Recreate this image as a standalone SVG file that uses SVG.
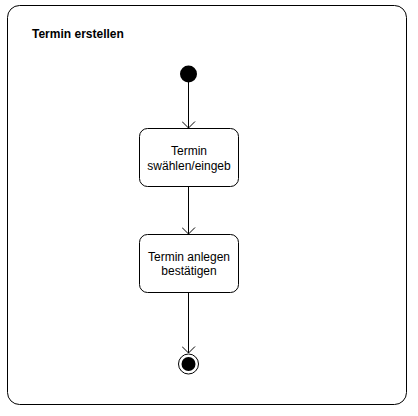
<svg xmlns="http://www.w3.org/2000/svg" width="418" height="416" viewBox="0 0 418 416">
<style>
.t{font-family:"Liberation Sans",Arial,sans-serif;font-size:12px;fill:#000}
.b{font-weight:bold}
.box{fill:#fff;stroke:#000;stroke-width:1}
.c{stroke:#000;stroke-width:1;fill:none}
</style>
<defs>
<marker id="ah" viewBox="0 0 8 14" refX="7" refY="7" markerWidth="8" markerHeight="14" markerUnits="userSpaceOnUse" orient="auto">
<path d="M0.5,0.5 L7,7 L0.5,13.5" fill="none" stroke="#000" stroke-width="1"/>
</marker>
</defs>
<rect width="418" height="416" fill="#fff"/>
<g id="frame">
<rect x="7.5" y="5.5" width="399" height="399" rx="12" ry="12" fill="#fff" stroke="#000" stroke-width="1"/>
<text class="t b" x="32" y="38">Termin erstellen</text>
</g>
<g id="connectors">
<line class="c" x1="188.5" y1="82" x2="188.5" y2="128" marker-end="url(#ah)"/>
<line class="c" x1="188.5" y1="187" x2="188.5" y2="234" marker-end="url(#ah)"/>
<line class="c" x1="188.5" y1="293" x2="188.5" y2="353" marker-end="url(#ah)"/>
</g>
<g id="start">
<circle cx="188.5" cy="74" r="8.5" fill="#000"/>
</g>
<g id="node1">
<rect class="box" x="139.5" y="128.5" width="99" height="58" rx="8" ry="8"/>
<text class="t" x="189" y="155" text-anchor="middle">Termin</text>
<text class="t" x="189" y="170" text-anchor="middle">swählen/eingeb</text>
</g>
<g id="node2">
<rect class="box" x="139.5" y="234.5" width="99" height="58" rx="8" ry="8"/>
<text class="t" x="189" y="261" text-anchor="middle">Termin anlegen</text>
<text class="t" x="189" y="275" text-anchor="middle">bestätigen</text>
</g>
<g id="end">
<circle cx="188.5" cy="364" r="10" fill="#fff" stroke="#000" stroke-width="1"/>
<circle cx="188.5" cy="364" r="7" fill="#000"/>
</g>
</svg>
